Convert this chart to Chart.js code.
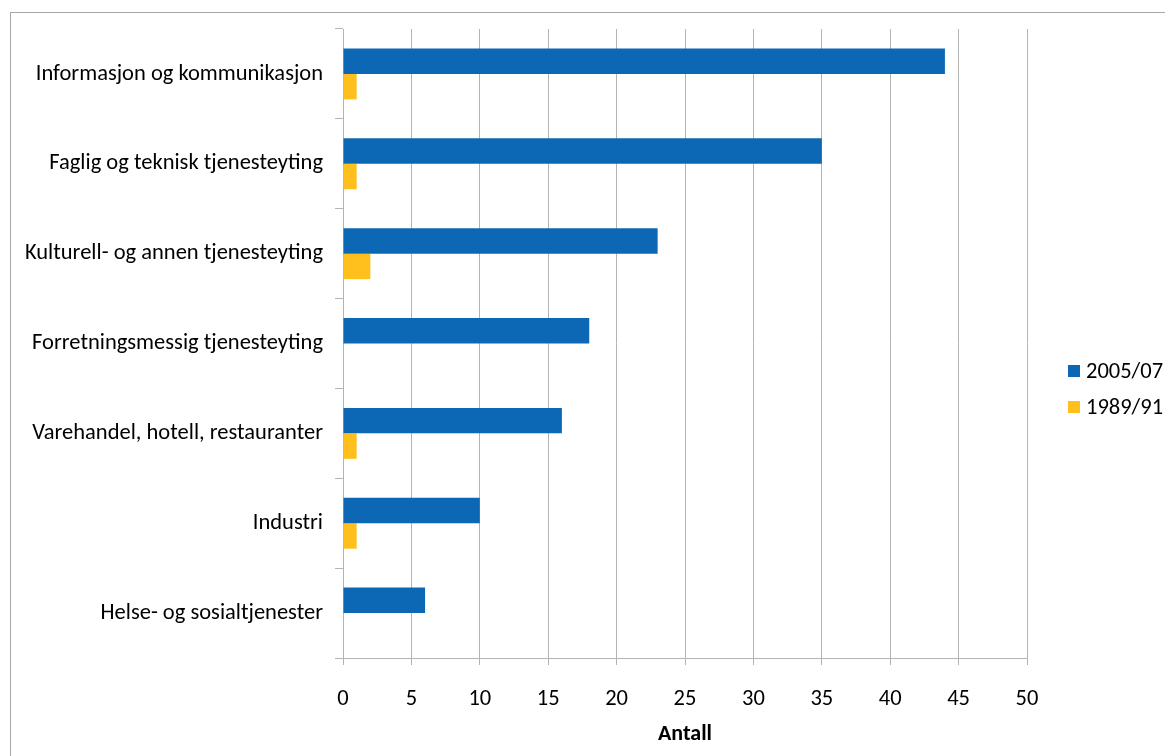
<!DOCTYPE html>
<html>
<head>
<meta charset="utf-8">
<script src="https://cdn.jsdelivr.net/npm/chart.js@4/dist/chart.umd.min.js"></script>
<style>
  html, body { margin: 0; padding: 0; background: #fff; }
  #wrap { position: relative; width: 1165px; height: 756px; overflow: hidden; }
  #frame { position: absolute; left: 10px; top: 12px; width: 1200px; height: 800px;
           border-left: 1px solid #a6a6a6; border-top: 1px solid #a6a6a6; pointer-events: none; }
  canvas { position: absolute; left: 0; top: 0; }
</style>
</head>
<body>
<div id="wrap">
  <canvas id="c" width="1165" height="756"></canvas>
  <div id="frame"></div>
</div>
<script>
const categories = [
  "Informasjon og kommunikasjon",
  "Faglig og teknisk tjenesteyting",
  "Kulturell- og annen tjenesteyting",
  "Forretningsmessig tjenesteyting",
  "Varehandel, hotell, restauranter",
  "Industri",
  "Helse- og sosialtjenester"
];
const seriesNames = ["2005/07", "1989/91"];
const values2005 = [44, 35, 23, 18, 16, 10, 6];
const values1989 = [1, 1, 2, 0, 1, 1, 0];
const xTicks = [0, 5, 10, 15, 20, 25, 30, 35, 40, 45, 50];
const axisTitle = "Antall";

const FONT = "Carlito, Calibri, Lato, sans-serif";
const FS = 22.5;
const TXT = "#000000";
const GRID = "#b3b3b3";

const legendPlugin = {
  id: 'customLegend',
  afterDraw(chart) {
    const ctx = chart.ctx;
    const ca = chart.chartArea;
    const x = ca.right + 41;
    const y0 = 371, gap = 36;
    ctx.save();
    ctx.font = FS + "px " + FONT;
    ctx.textBaseline = "middle";
    ctx.textAlign = "left";
    chart.data.datasets.forEach((ds, i) => {
      const y = y0 + i * gap;
      ctx.fillStyle = ds.backgroundColor;
      ctx.fillRect(x, y - 6, 12, 12);
      ctx.fillStyle = TXT;
      ctx.fillText(ds.label, x + 18, y + 1);
    });
    ctx.restore();
  }
};

new Chart(document.getElementById('c'), {
  type: 'bar',
  data: {
    labels: categories,
    datasets: [
      { label: seriesNames[0], data: values2005, backgroundColor: '#0c68b4',
        categoryPercentage: 0.567, barPercentage: 1.0 },
      { label: seriesNames[1], data: values1989, backgroundColor: '#ffc01e',
        categoryPercentage: 0.567, barPercentage: 1.0 }
    ]
  },
  options: {
    indexAxis: 'y',
    responsive: false,
    animation: false,
    devicePixelRatio: 1,
    layout: { padding: { top: 29, right: 138, left: 0, bottom: 0 } },
    plugins: {
      legend: { display: false },
      tooltip: { enabled: false }
    },
    scales: {
      x: {
        min: 0, max: 50,
        afterBuildTicks(scale) { scale.ticks = xTicks.map(v => ({ value: v })); },
        afterFit(scale) { scale.height = 98; },
        grid: { color: GRID, lineWidth: 1, tickLength: 7, drawTicks: true },
        border: { color: GRID, width: 1 },
        ticks: { color: TXT, font: { family: FONT, size: FS }, padding: 21 },
        title: { display: true, text: axisTitle, color: TXT,
                 font: { family: FONT, size: 22, weight: 'bold' },
                 padding: { top: 0, bottom: 8 } }
      },
      y: {
        afterFit(scale) { scale.width = 343; },
        grid: { offset: true, drawOnChartArea: false, color: GRID, tickLength: 8 },
        border: { color: GRID, width: 1 },
        ticks: { color: TXT, font: { family: FONT, size: FS }, padding: 12 }
      }
    }
  },
  plugins: [legendPlugin]
});
</script>
</body>
</html>
